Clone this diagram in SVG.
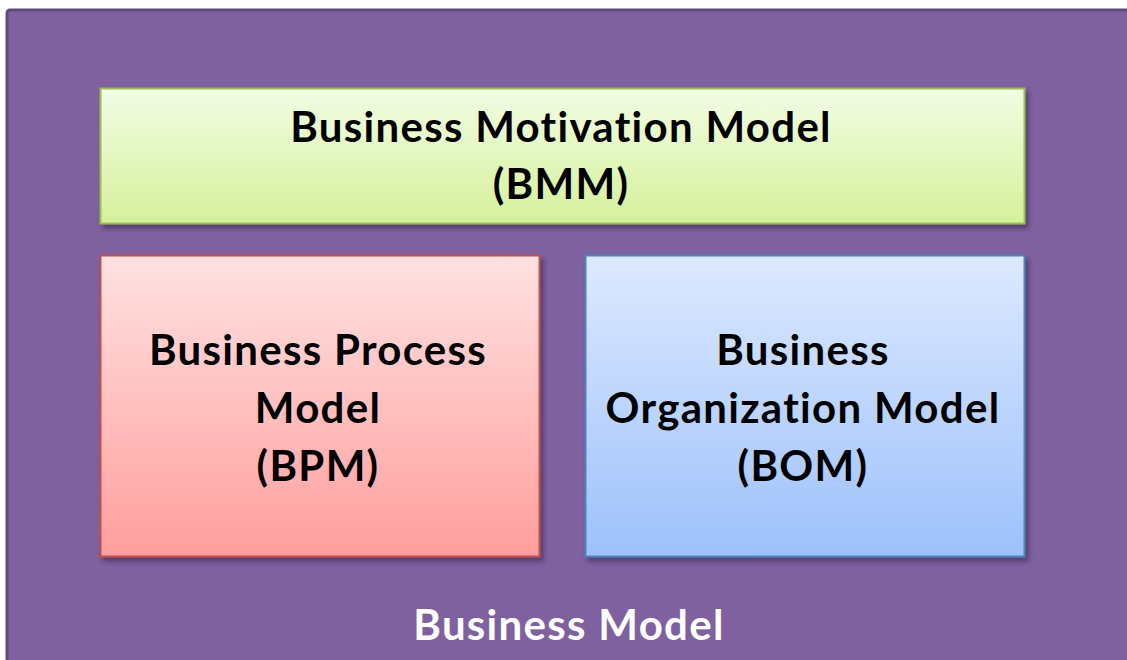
<svg xmlns="http://www.w3.org/2000/svg" width="1127" height="660" viewBox="0 0 1127 660">
  <defs>
    <linearGradient id="gGreen" x1="0" y1="0" x2="0" y2="1">
      <stop offset="0" stop-color="#f2fde4"/>
      <stop offset="1" stop-color="#d5f19a"/>
    </linearGradient>
    <linearGradient id="gRed" x1="0" y1="0" x2="0" y2="1">
      <stop offset="0" stop-color="#ffe2e2"/>
      <stop offset="1" stop-color="#ff9e9c"/>
    </linearGradient>
    <linearGradient id="gBlue" x1="0" y1="0" x2="0" y2="1">
      <stop offset="0" stop-color="#dde9ff"/>
      <stop offset="1" stop-color="#9dc1fb"/>
    </linearGradient>
    <filter id="shadow" x="-5%" y="-5%" width="115%" height="120%">
      <feDropShadow dx="3" dy="4" stdDeviation="2.5" flood-color="#2a1d3d" flood-opacity="0.55"/>
    </filter>
  </defs>
  <style>
    .label { font-family: Lato, "Open Sans", "Liberation Sans", sans-serif; font-weight: bold; font-size: 42px; letter-spacing: 1.3px; fill: #000; text-anchor: middle; }
    .title { fill: #fff; }
  </style>

  <rect width="1127" height="660" fill="#ffffff"/>

  <!-- container: Business Model -->
  <g id="business-model">
    <rect x="7" y="10" width="1130" height="660" rx="3" fill="#7f61a0" stroke="#5e4a7c" stroke-width="3"/>
    <text class="label title" x="569" y="640">Business Model</text>
  </g>

  <g id="bmm">
    <rect x="100.5" y="88.5" width="924" height="135" fill="url(#gGreen)" stroke="#9bbb59" stroke-width="2" filter="url(#shadow)"/>
    <text class="label" x="561" y="142">Business Motivation Model</text>
    <text class="label" x="561" y="199">(BMM)</text>
  </g>

  <g id="bpm">
    <rect x="100.5" y="255.5" width="439" height="301" fill="url(#gRed)" stroke="#c0504d" stroke-width="2" filter="url(#shadow)"/>
    <text class="label" x="318" y="365">Business Process</text>
    <text class="label" x="318" y="423">Model</text>
    <text class="label" x="318" y="481">(BPM)</text>
  </g>

  <g id="bom">
    <rect x="585.5" y="255.5" width="439" height="301" fill="url(#gBlue)" stroke="#4f81bd" stroke-width="2" filter="url(#shadow)"/>
    <text class="label" x="803" y="365">Business</text>
    <text class="label" x="803" y="423">Organization Model</text>
    <text class="label" x="803" y="481">(BOM)</text>
  </g>

  <g id="connectors"/>
</svg>
